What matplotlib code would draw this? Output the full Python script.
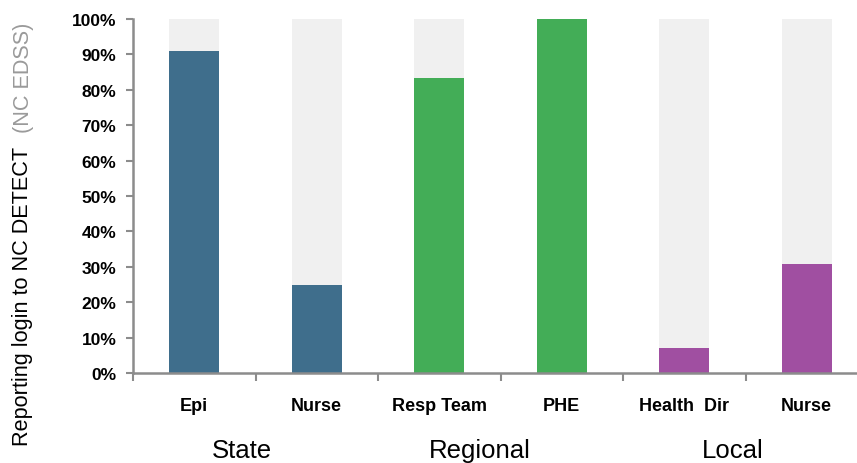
import matplotlib
matplotlib.use("Agg")
import matplotlib.pyplot as plt
import numpy as np

# Share of each role reporting a login to NC DETECT
roles = ["Epi", "Nurse", "Resp Team", "PHE", "Health  Dir", "Nurse"]
values = [90.9, 25.0, 83.3, 100.0, 7.0, 30.8]
role_colors = ["#3f6e8c", "#3f6e8c", "#43ad57", "#43ad57", "#a04fa1", "#a04fa1"]
groups = ["State", "Regional", "Local"]
group_pos = [0.39, 2.33, 4.40]
yticks = [0, 10, 20, 30, 40, 50, 60, 70, 80, 90, 100]

plt.rcParams["font.family"] = ["Liberation Sans", "DejaVu Sans"]

fig = plt.figure(figsize=(8.57, 4.64), dpi=100)
ax = fig.add_axes([133 / 857, 1 - 374 / 464, 735 / 857, 354 / 464])

x = np.arange(len(roles))
bw = 0.41
ax.bar(x, [100] * len(roles), width=bw, color="#f0f0f0", zorder=1)
ax.bar(x, values, width=bw, color=role_colors, zorder=2)

ax.set_xlim(-0.5, len(roles) - 0.5)
ax.set_ylim(0, 100)

for s in ["top", "right"]:
    ax.spines[s].set_visible(False)
for s in ["left", "bottom"]:
    ax.spines[s].set_color("#8c8c8c")
    ax.spines[s].set_linewidth(1.8)

ax.set_yticks(yticks)
ax.set_yticklabels([f"{v}%" for v in yticks], fontsize=12.5, fontweight="bold")
ax.tick_params(axis="y", length=5, width=1.5, color="#8c8c8c", pad=7)

# category boundary ticks on x, labels centred under bars
ax.set_xticks(np.arange(len(roles) + 1) - 0.5)
ax.set_xticklabels([])
ax.tick_params(axis="x", length=6, width=1.5, color="#8c8c8c")
for xi, r in zip(x, roles):
    ax.text(xi, -9.3, r, ha="center", va="center", fontsize=13, fontweight="bold")
for gp, g in zip(group_pos, groups):
    ax.text(gp, -21.8, g, ha="center", va="center", fontsize=18.5)

fig.text(23 / 857, 1 - 446 / 464, "Reporting login to NC DETECT", rotation=90,
         ha="center", va="bottom", fontsize=15.6, color="black")
fig.text(23 / 857, 1 - 133 / 464, "(NC EDSS)", rotation=90,
         ha="center", va="bottom", fontsize=15.6, color="#9a9a9a")

fig.savefig("out.png", dpi=100)
